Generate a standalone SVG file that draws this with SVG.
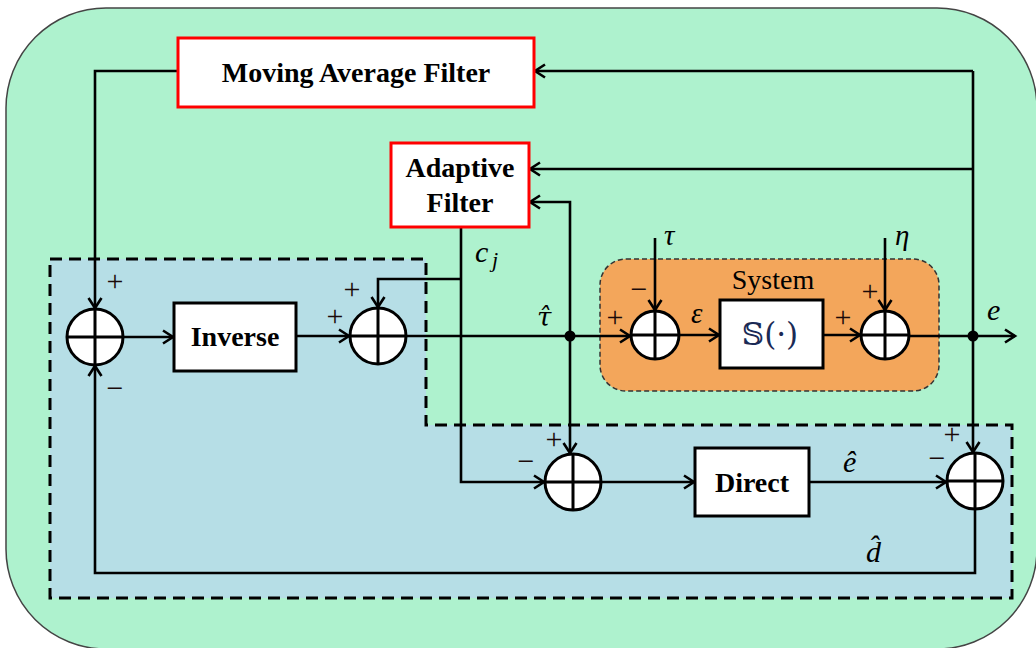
<svg xmlns="http://www.w3.org/2000/svg" width="1036" height="648" viewBox="0 0 1036 648">
  <defs>
    <marker id="arr" markerUnits="userSpaceOnUse" markerWidth="16" markerHeight="16" refX="13" refY="8" orient="auto">
      <path d="M3,1.5 L13,8 L3,14.5" fill="none" stroke="#000" stroke-width="2.6" stroke-linejoin="miter"/>
    </marker>
  </defs>
  <style>
    .bg { fill: #aef2ce; stroke: #444; stroke-width: 1.5; }
    .region { fill: #b6dee6; stroke: #000; stroke-width: 3; stroke-dasharray: 12 7; }
    .sys { fill: #f3a65b; stroke: #333; stroke-width: 1.5; stroke-dasharray: 5 3; }
    .rbox { fill: #fff; stroke: #ff0000; stroke-width: 3; }
    .kbox { fill: #fff; stroke: #000; stroke-width: 3; }
    .sum circle { fill: #fff; stroke: #000; stroke-width: 3; }
    .sum path { stroke: #000; stroke-width: 3; fill: none; }
    .wire { fill: none; stroke: #000; stroke-width: 2.6; }
    .arrow { marker-end: url(#arr); }
    .lbl { font-family: "Liberation Serif", "Times New Roman", serif; font-weight: bold; font-size: 28px; fill: #000; text-anchor: middle; }
    .math { font-family: "Liberation Serif", "Times New Roman", serif; font-style: italic; font-size: 30px; fill: #000; }
    .sign { font-family: "Liberation Serif", "Times New Roman", serif; font-size: 30px; fill: #1a0a0a; text-anchor: middle; }
    .plain { font-family: "Liberation Serif", "Times New Roman", serif; font-size: 28px; fill: #000; text-anchor: middle; }
  </style>

  <g id="background">
    <rect class="bg" x="6" y="8" width="1031" height="641" rx="100" ry="100"/>
    <path class="region" d="M50,259 H426 V425 H1012 V598 H50 Z"/>
    <rect class="sys" x="600" y="259" width="339" height="132" rx="26" ry="26"/>
    <text class="plain" x="773" y="289">System</text>
  </g>

  <g id="connectors">
    <path class="wire arrow" d="M178,71 H95 V308"/>
    <path class="wire arrow" d="M123,337 H173"/>
    <path class="wire arrow" d="M296,336 H349"/>
    <path class="wire arrow" d="M461,227 V482 H544"/>
    <path class="wire arrow" d="M461,279 H378 V307"/>
    <path class="wire arrow" d="M406,336 H630"/>
    <path class="wire arrow" d="M655,238 V310"/>
    <path class="wire arrow" d="M680,335 H719"/>
    <path class="wire arrow" d="M823,335 H860"/>
    <path class="wire arrow" d="M885,238 V310"/>
    <path class="wire arrow" d="M909,336 H1015"/>
    <path class="wire arrow" d="M973,71 V452"/>
    <path class="wire arrow" d="M973,71 H535"/>
    <path class="wire arrow" d="M973,169 H530"/>
    <path class="wire arrow" d="M570,336 V202 H530"/>
    <path class="wire arrow" d="M570,336 V453"/>
    <path class="wire arrow" d="M601,482 H694"/>
    <path class="wire arrow" d="M809,482 H946"/>
    <path class="wire arrow" d="M975,509 V573 H95 V366"/>
    <circle cx="570" cy="336" r="5.5" fill="#000"/>
    <circle cx="973" cy="336" r="5.5" fill="#000"/>
  </g>

  <g id="maf">
    <rect class="rbox" x="178" y="38" width="356" height="69"/>
    <text class="lbl" x="356" y="82">Moving Average Filter</text>
  </g>
  <g id="adaptive">
    <rect class="rbox" x="391" y="143" width="138" height="84"/>
    <text class="lbl" x="460" y="177">Adaptive</text>
    <text class="lbl" x="460" y="212">Filter</text>
  </g>
  <g id="inverse">
    <rect class="kbox" x="174" y="303" width="122" height="68"/>
    <text class="lbl" x="235" y="346">Inverse</text>
  </g>
  <g id="plant">
    <rect class="kbox" x="720" y="300" width="103" height="68"/>
    <text x="770" y="345" style="font-family: 'DejaVu Serif', 'DejaVu Sans', serif; font-size: 31px; fill: #1a2a55; text-anchor: middle;">𝕊(·)</text>
  </g>
  <g id="direct">
    <rect class="kbox" x="695" y="448" width="114" height="68"/>
    <text class="lbl" x="752" y="492">Direct</text>
  </g>

  <g id="sum1" class="sum">
    <circle cx="95" cy="337" r="28"/>
    <path d="M67,337 H123 M95,309 V365"/>
  </g>
  <g id="sum2" class="sum">
    <circle cx="378" cy="336" r="28"/>
    <path d="M350,336 H406 M378,308 V364"/>
  </g>
  <g id="sum3" class="sum">
    <circle cx="655" cy="335" r="24"/>
    <path d="M631,335 H679 M655,311 V359"/>
  </g>
  <g id="sum4" class="sum">
    <circle cx="885" cy="335" r="24"/>
    <path d="M861,335 H909 M885,311 V359"/>
  </g>
  <g id="sum5" class="sum">
    <circle cx="573" cy="482" r="28"/>
    <path d="M545,482 H601 M573,454 V510"/>
  </g>
  <g id="sum6" class="sum">
    <circle cx="975" cy="481" r="28"/>
    <path d="M947,481 H1003 M975,453 V509"/>
  </g>

  <g id="signs">
    <text class="sign" x="115" y="291">+</text>
    <text class="sign" x="115" y="398">−</text>
    <text class="sign" x="352" y="299">+</text>
    <text class="sign" x="335" y="326">+</text>
    <text class="sign" x="639" y="299">−</text>
    <text class="sign" x="615" y="327">+</text>
    <text class="sign" x="870" y="301">+</text>
    <text class="sign" x="843" y="327">+</text>
    <text class="sign" x="554" y="449">+</text>
    <text class="sign" x="526" y="471">−</text>
    <text class="sign" x="952" y="444">+</text>
    <text class="sign" x="937" y="468">−</text>
  </g>

  <g id="labels">
    <text class="math" x="475" y="262">c</text>
    <text class="math" x="492" y="267" style="font-size:22px">j</text>
    <text x="537" y="326" style="font-family: 'DejaVu Serif', serif; font-style: italic; font-size: 26px; fill: #000;">τ̂</text>
    <text class="math" x="664" y="245" style="font-size:29px">τ</text>
    <text class="math" x="895" y="245" style="font-size:29px">η</text>
    <text class="math" x="691" y="323" style="font-size:29px">ε</text>
    <text class="math" x="987" y="320">e</text>
    <text class="math" x="843" y="472">ê</text>
    <text class="math" x="866" y="562">d̂</text>
  </g>
</svg>
